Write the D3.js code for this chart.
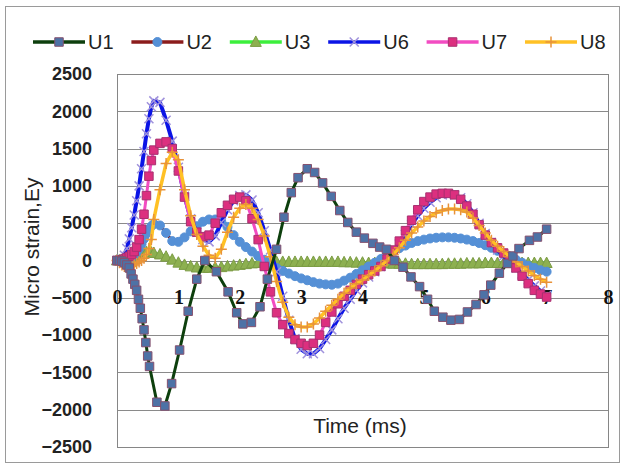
<!DOCTYPE html>
<html>
<head>
<meta charset="utf-8">
<script src="https://cdn.jsdelivr.net/npm/d3@7"></script>
<style>
  body { margin: 0; background: #fff; }
  svg { display: block; font-family: "Liberation Sans", Arial, sans-serif; }
</style>
</head>
<body>
<div id="chart"></div>
<script>
// Time axis (ms) shared by U2..U8
const time = [0, 0.04, 0.08, 0.12, 0.16, 0.2, 0.24, 0.28, 0.32, 0.36, 0.4, 0.44, 0.48, 0.52, 0.56,
  0.6, 0.7, 0.8, 0.9, 1.0, 1.1, 1.2, 1.3, 1.4, 1.5, 1.6, 1.7, 1.8, 1.9, 2.0,
  2.1, 2.2, 2.3, 2.4, 2.5, 2.6, 2.7, 2.8, 2.9, 3.0, 3.1, 3.2, 3.3, 3.4, 3.5,
  3.6, 3.7, 3.8, 3.9, 4.0, 4.1, 4.2, 4.3, 4.4, 4.5, 4.6, 4.7, 4.8, 4.9, 5.0,
  5.1, 5.2, 5.3, 5.4, 5.5, 5.6, 5.7, 5.8, 5.9, 6.0, 6.1, 6.2, 6.3, 6.4, 6.5,
  6.6, 6.7, 6.8, 6.9, 7.0];

// U1 was sampled on its own steps
const u1Time = [0, 0.04, 0.08, 0.12, 0.16, 0.2, 0.23, 0.26, 0.29, 0.32, 0.35, 0.38, 0.41, 0.44, 0.47, 0.5, 0.53,
  0.65, 0.78, 0.89, 1.02, 1.16, 1.3, 1.43, 1.62, 1.81, 1.95, 2.05, 2.19, 2.33, 2.45,
  2.6, 2.72, 2.84, 2.95, 3.1, 3.22, 3.35, 3.49, 3.63, 3.76, 3.9, 4.03, 4.17, 4.28, 4.39,
  4.52, 4.66, 4.79, 4.93, 5.06, 5.17, 5.31, 5.44, 5.58, 5.71, 5.85, 5.98, 6.09, 6.23,
  6.36, 6.45, 6.55, 6.72, 6.85, 7.0];
const u1 = [0, 0, -10, -30, -60, -100, -180, -250, -320, -400, -520, -640, -780, -930, -1100, -1280, -1420,
  -1900, -1950, -1650, -1200, -680, -250, 0, -150, -420, -700, -850, -830, -620, -250,
  150, 580, 910, 1110, 1230, 1180, 1040, 860, 670, 510, 380, 300, 230, 180, 150,
  0, -90, -220, -350, -520, -680, -760, -800, -790, -690, -590, -460, -330, -170,
  -40, 60, 160, 270, 315, 420];

const u2 = [0, 0, 0, 5, 10, 20, 40, 70, 110, 160, 220, 290, 360, 420, 460,
  490, 470, 370, 260, 250, 310, 390, 460, 520, 550, 550, 520, 450, 340, 250,
  180, 120, 60, 10, -50, -100, -140, -175, -210, -240, -265, -290, -310, -320, -325,
  -310, -270, -230, -180, -130, -80, -30, 20, 70, 120, 165, 200, 235, 260, 280,
  295, 305, 310, 310, 305, 295, 280, 260, 235, 205, 170, 130, 90, 50, 10,
  -30, -70, -100, -130, -150];

const u3 = [0, 0, 5, 10, 20, 30, 40, 55, 70, 85, 95, 105, 110, 110, 105,
  100, 80, 50, 10, -30, -60, -80, -95, -100, -100, -95, -90, -80, -70, -60,
  -50, -40, -35, -30, -25, -20, -20, -20, -20, -20, -20, -20, -20, -20, -20,
  -20, -25, -25, -30, -30, -35, -35, -40, -40, -45, -45, -45, -50, -50, -50,
  -50, -50, -50, -45, -45, -45, -40, -40, -40, -35, -35, -35, -35, -35, -35,
  -35, -35, -35, -35, -35];

const u6 = [0, 0, 20, 70, 160, 290, 440, 610, 800, 1000, 1230, 1460, 1700, 1900, 2060,
  2140, 2120, 1880, 1600, 1250, 860, 560, 380, 280, 250, 330, 510, 680, 800, 870,
  880, 810, 640, 400, 140, -150, -480, -800, -1050, -1190, -1250, -1250, -1180, -1060, -930,
  -780, -640, -520, -400, -300, -220, -150, -80, 0, 100, 220, 350, 480, 600, 700,
  780, 840, 880, 890, 880, 840, 760, 640, 500, 360, 240, 140, 60, -20, -100,
  -180, -260, -340, -410, -470];

const u7 = [0, 0, 10, 20, 35, 55, 80, 120, 180, 280, 420, 620, 870, 1130, 1340,
  1480, 1570, 1590, 1500, 1200, 850, 520, 380, 320, 340, 500, 640, 740, 820, 850,
  800, 560, 280, -80, -420, -700, -860, -980, -1060, -1110, -1140, -1110, -1000, -830, -690,
  -580, -480, -400, -320, -250, -190, -140, -80, 20, 140, 260, 400, 540, 680, 790,
  850, 890, 900, 900, 880, 820, 730, 620, 480, 340, 240, 170, 100, 10, -100,
  -210, -310, -400, -450, -490];

const u8 = [0, -30, -60, -80, -90, -90, -80, -60, -40, -20, 0, 30, 80, 160, 280,
  550, 950, 1300, 1450, 1350, 950, 600, 350, 190, 70, 30, 150, 380, 580, 700,
  750, 700, 550, 330, 50, -280, -560, -760, -860, -890, -890, -850, -770, -680, -600,
  -520, -440, -370, -310, -260, -200, -140, -70, 0, 80, 170, 270, 370, 450, 530,
  590, 640, 670, 690, 690, 680, 650, 570, 470, 370, 270, 190, 120, 50, -20,
  -80, -140, -200, -250, -290];

const xTicks = [0, 1, 2, 3, 4, 5, 6, 7, 8];
const yTicks = [-2500, -2000, -1500, -1000, -500, 0, 500, 1000, 1500, 2000, 2500];

// series styling (order = drawing order, U1 ends on top)
const series = [
  { name: "U3", t: time, v: u3, line: "#3cef3c", lw: 3, marker: "triangle", fill: "#8db050", stroke: "#7c9c44" },
  { name: "U2", t: time, v: u2, line: "#8b1c1c", lw: 3, marker: "circle", fill: "#5590d6", stroke: "#5590d6" },
  { name: "U6", t: time, v: u6, line: "#0b14e6", lw: 4, marker: "x", fill: "none", stroke: "#a092dc" },
  { name: "U7", t: time, v: u7, line: "#f24cc2", lw: 3, marker: "square", fill: "#dc2f7f", stroke: "#a83070" },
  { name: "U8", t: time, v: u8, line: "#ffc125", lw: 3.5, marker: "plus", fill: "none", stroke: "#e8923a" },
  { name: "U1", t: u1Time, v: u1, line: "#0d3f0d", lw: 3, marker: "square", fill: "#4d72a6", stroke: "#85506e" }
];
const legendOrder = ["U1", "U2", "U3", "U6", "U7", "U8"];

const width = 622, height = 466;
const plot = { left: 117, right: 608, top: 74, bottom: 447 };

const svg = d3.select("#chart").append("svg")
  .attr("width", width)
  .attr("height", height);

// outer chart frame
svg.append("rect")
  .attr("x", 5.5).attr("y", 6.5)
  .attr("width", 614).attr("height", 456)
  .attr("fill", "#fff")
  .attr("stroke", "#9a9a9a");

const x = d3.scaleLinear().domain([0, 8]).range([plot.left, plot.right]);
const y = d3.scaleLinear().domain([-2500, 2500]).range([plot.bottom, plot.top]);

// horizontal gridlines
svg.append("g")
  .selectAll("line")
  .data(yTicks)
  .enter().append("line")
    .attr("x1", plot.left).attr("x2", plot.right)
    .attr("y1", d => Math.round(y(d)) + 0.5)
    .attr("y2", d => Math.round(y(d)) + 0.5)
    .attr("stroke", "#8a8a8a")
    .attr("stroke-width", 1);

// plot border
svg.append("rect")
  .attr("x", plot.left + 0.5).attr("y", Math.round(plot.top) + 0.5)
  .attr("width", plot.right - plot.left)
  .attr("height", Math.round(plot.bottom) - Math.round(plot.top))
  .attr("fill", "none")
  .attr("stroke", "#868686");

// y axis labels
const yAxis = svg.append("g")
  .attr("transform", "translate(" + plot.left + ",0)")
  .call(d3.axisLeft(y).tickValues(yTicks).tickFormat(d3.format("d")).tickSize(0).tickPadding(25));
yAxis.select(".domain").remove();
yAxis.selectAll("text")
  .style("font-family", "'Liberation Sans', Arial, sans-serif")
  .style("font-size", "18px")
  .style("font-weight", "bold")
  .attr("fill", "#222");

// x axis labels (sit just under the zero line, on the -500 grid)
const xAxis = svg.append("g")
  .attr("transform", "translate(0," + y(0) + ")")
  .call(d3.axisBottom(x).tickValues(xTicks).tickSize(0));
xAxis.select(".domain").remove();
xAxis.selectAll("text")
  .attr("y", 36)
  .attr("dy", "0.35em")
  .style("font-family", "'Liberation Serif', 'Times New Roman', serif")
  .style("font-size", "20px")
  .style("font-weight", "bold")
  .attr("fill", "#111");

// markers
function markerPath(type, s) {
  const h = s / 2;
  if (type === "square") return "M" + (-h) + "," + (-h) + "h" + s + "v" + s + "h" + (-s) + "Z";
  if (type === "x") return "M" + (-h) + "," + (-h) + "L" + h + "," + h + "M" + (-h) + "," + h + "L" + h + "," + (-h);
  if (type === "plus") return "M" + (-h) + ",0L" + h + ",0M0," + (-h) + "L0," + h;
  if (type === "triangle") return "M0," + (-h * 1.1) + "L" + h + "," + (h * 0.8) + "L" + (-h) + "," + (h * 0.8) + "Z";
  return d3.symbol().type(d3.symbolCircle).size(s * s * 0.78)();
}
const markerSize = { square: 8.5, circle: 9, triangle: 11, x: 9, plus: 11 };

const line = d3.line()
  .x(d => x(d[0]))
  .y(d => y(d[1]));

svg.append("clipPath").attr("id", "plotclip")
  .append("rect")
  .attr("x", plot.left - 8).attr("y", plot.top)
  .attr("width", plot.right - plot.left + 16)
  .attr("height", plot.bottom - plot.top);

const plotG = svg.append("g").attr("clip-path", "url(#plotclip)");

series.forEach(function(s) {
  const pts = s.t.map((t, i) => [t, s.v[i]]);
  const g = plotG.append("g").attr("class", "series " + s.name);
  g.append("path")
    .datum(pts)
    .attr("d", line)
    .attr("fill", "none")
    .attr("stroke", s.line)
    .attr("stroke-width", s.lw)
    .attr("stroke-linejoin", "round");
  g.selectAll("path.mk")
    .data(pts)
    .enter().append("path")
      .attr("class", "mk")
      .attr("transform", d => "translate(" + x(d[0]) + "," + y(d[1]) + ")")
      .attr("d", markerPath(s.marker, markerSize[s.marker]))
      .attr("fill", s.fill)
      .attr("stroke", s.stroke)
      .attr("stroke-width", (s.marker === "x" || s.marker === "plus") ? 1.5 : 1);
});

// legend
const legend = svg.append("g").attr("class", "legend");
legendOrder.forEach(function(name, i) {
  const s = series.find(d => d.name === name);
  const lx = 33 + i * 98.4, ly = 42;
  const g = legend.append("g").attr("transform", "translate(" + lx + "," + ly + ")");
  g.append("line")
    .attr("x1", 0).attr("x2", 52)
    .attr("stroke", s.line)
    .attr("stroke-width", 3.5);
  g.append("path")
    .attr("transform", "translate(26,0)")
    .attr("d", markerPath(s.marker, markerSize[s.marker]))
    .attr("fill", s.fill)
    .attr("stroke", s.stroke)
    .attr("stroke-width", (s.marker === "x" || s.marker === "plus") ? 1.5 : 1);
  g.append("text")
    .attr("x", 55)
    .attr("dy", "0.35em")
    .style("font-size", "20px")
    .attr("fill", "#222")
    .text(name);
});

// axis titles
svg.append("text")
  .attr("transform", "translate(32,247) rotate(-90)")
  .attr("text-anchor", "middle")
  .attr("dy", "0.35em")
  .style("font-size", "21px")
  .attr("fill", "#222")
  .text("Micro strain,Ey");

svg.append("text")
  .attr("x", 360)
  .attr("y", 426)
  .attr("text-anchor", "middle")
  .attr("dy", "0.35em")
  .style("font-size", "21px")
  .attr("fill", "#222")
  .text("Time (ms)");
</script>
</body>
</html>
